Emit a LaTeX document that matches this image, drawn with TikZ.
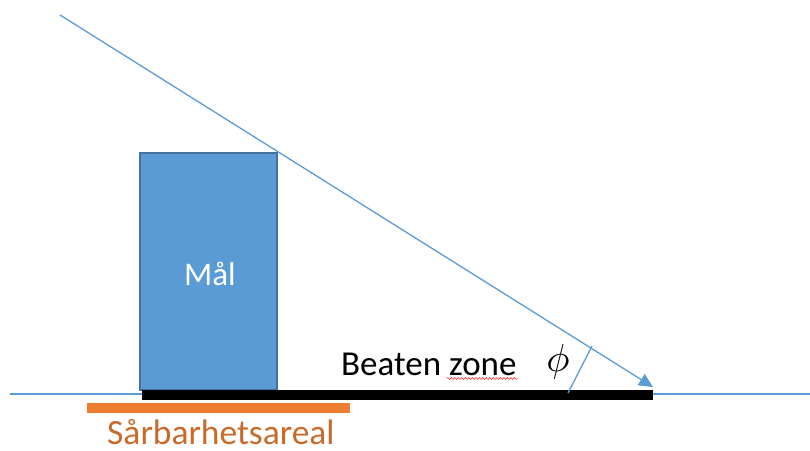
\documentclass[tikz,border=0pt]{standalone}
\usepackage{fontspec}
\setmainfont{Carlito}
\usetikzlibrary{arrows.meta,decorations.pathmorphing}
\definecolor{lblue}{HTML}{5B9BD5}
\definecolor{dblue}{HTML}{41719C}
\definecolor{orng}{HTML}{ED7D31}
\tikzset{
  ray/.style={draw=lblue, line width=1.3pt},
  target/.style={draw=dblue, fill=lblue, line width=2pt, minimum width=137pt, minimum height=237pt, inner sep=0pt},
  bar/.style={fill=black, inner sep=0pt},
  obar/.style={fill=orng, inner sep=0pt},
  lbl/.style={font=\fontsize{35}{40}\selectfont, inner sep=0pt}
}
\begin{document}
\begin{tikzpicture}[x=1pt,y=-1pt]
\useasboundingbox (0,0) rectangle (810,450);
\coordinate (gl) at (10,394);
\coordinate (gr) at (810,394);
\draw[ray] (gl) -- (gr);
\node[target] (mal) at (208.5,271.5) {};
\node[lbl, text=white, font=\fontsize{33}{40}\selectfont, anchor=base] (maltxt) at (210,285) {Mål};
\node[bar, minimum width=511pt, minimum height=10pt] (beaten) at (397.5,395) {};
\node[obar, minimum width=263pt, minimum height=10pt] (sar) at (218.5,408) {};
\node[lbl, anchor=base west] (bz) at (341,375) {Beaten zone};
\draw[red, line width=0.5pt, decorate, decoration={snake, segment length=3.5pt, amplitude=0.9pt}] (bz.base east) ++(-70,3.5) coordinate (sq1) -- ++(71,0) coordinate (sq2);
\node[lbl, font=\fontsize{35.5}{40}\selectfont, text=orng!85!black, anchor=base west] (sartxt) at (107,444) {Sårbarhetsareal};
\coordinate (src) at (60,15);
\coordinate (tip) at (653,387);
\draw[ray, -{Triangle[length=14pt,width=13pt]}] (src) -- (tip);
\coordinate (a1) at (568,393);
\coordinate (a2) at (592,346);
\draw[ray] (a1) -- (a2);
\node[inner sep=0pt] (phi) at (558,362) {\scalebox{3.9}{$\phi$}};
\end{tikzpicture}
\end{document}
